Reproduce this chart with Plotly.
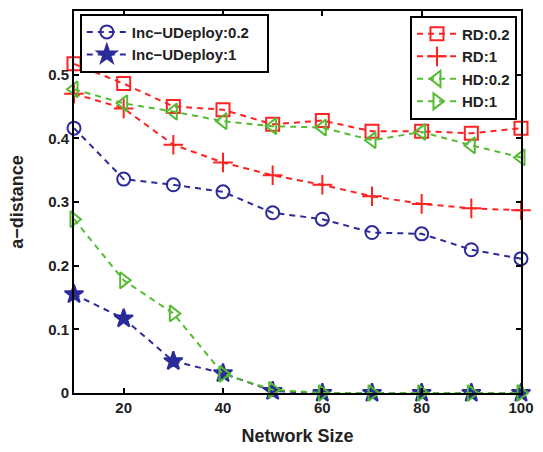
import plotly.graph_objects as go

network_size = [10, 20, 30, 40, 50, 60, 70, 80, 90, 100]
inc_02 = [0.416, 0.336, 0.327, 0.316, 0.283, 0.273, 0.252, 0.250, 0.225, 0.211]
inc_1 = [0.155, 0.117, 0.050, 0.031, 0.003, 0.0, 0.0, 0.0, 0.0, 0.0]
rd_02 = [0.517, 0.486, 0.450, 0.445, 0.422, 0.428, 0.411, 0.411, 0.408, 0.416]
rd_1 = [0.470, 0.447, 0.390, 0.362, 0.342, 0.327, 0.309, 0.297, 0.290, 0.287]
hd_02 = [0.477, 0.455, 0.442, 0.427, 0.419, 0.417, 0.397, 0.410, 0.389, 0.370]
hd_1 = [0.273, 0.177, 0.125, 0.030, 0.005, 0.0, 0.0, 0.0, 0.0, 0.0]

x_ticks = [20, 40, 60, 80, 100]
y_ticks = [0, 0.1, 0.2, 0.3, 0.4, 0.5]

BLUE = "#2B2B99"
RED = "#FF2222"
GREEN = "#55BB33"
FONT = "Liberation Sans"
PAD = "\u00a0" * 3

series = [
    ("Inc\u2212UDeploy:0.2" + PAD, inc_02, BLUE, "circle-open", 13, "legend"),
    ("Inc\u2212UDeploy:1" + PAD, inc_1, BLUE, "star", 14, "legend"),
    ("RD:0.2", rd_02, RED, "square-open", 13, "legend2"),
    ("RD:1", rd_1, RED, "cross-thin-open", 14, "legend2"),
    ("HD:0.2", hd_02, GREEN, "triangle-left-open", 14, "legend2"),
    ("HD:1", hd_1, GREEN, "triangle-right-open", 14, "legend2"),
]

fig = go.Figure()
for name, ys, color, sym, size, leg in series:
    fig.add_trace(go.Scatter(
        x=network_size, y=ys, name=name, mode="lines+markers",
        line=dict(color=color, width=2, dash="6px,5px"),
        marker=dict(symbol=sym, size=size, color=color,
                    line=dict(color=color, width=2)),
        cliponaxis=False, legend=leg,
    ))

axis_common = dict(
    showline=True, linecolor="black", linewidth=2, mirror="ticks",
    ticks="inside", ticklen=5, tickwidth=1.5, tickcolor="black",
    showgrid=False, zeroline=False,
    tickfont=dict(family=FONT, size=15, color="#222", weight="bold"),
)

fig.update_xaxes(range=[10, 100], tickvals=x_ticks,
                 title=dict(text="Network Size", standoff=14,
                            font=dict(family=FONT, size=18, color="#222", weight="bold")),
                 **axis_common)
fig.update_yaxes(range=[0, 0.6], tickvals=y_ticks,
                 ticktext=["0", "0.1", "0.2", "0.3", "0.4", "0.5"],
                 title=dict(text="a\u2212distance", standoff=20,
                            font=dict(family=FONT, size=18, color="#222", weight="bold")),
                 **axis_common)

legend_common = dict(
    bgcolor="white", bordercolor="black", borderwidth=2,
    font=dict(family=FONT, size=15, color="#222", weight="bold"),
    itemwidth=40, tracegroupgap=0,
)

fig.update_layout(
    width=543, height=452,
    margin=dict(l=74, r=13, t=9, b=59),
    plot_bgcolor="white", paper_bgcolor="white",
    legend=dict(x=0.013, y=0.993, xanchor="left", yanchor="top", **legend_common),
    legend2=dict(x=0.991, y=0.988, xanchor="right", yanchor="top", **legend_common),
    showlegend=True,
)

fig.write_html("out.html", config={"displayModeBar": False},
               post_script="document.body.style.margin='0';")
